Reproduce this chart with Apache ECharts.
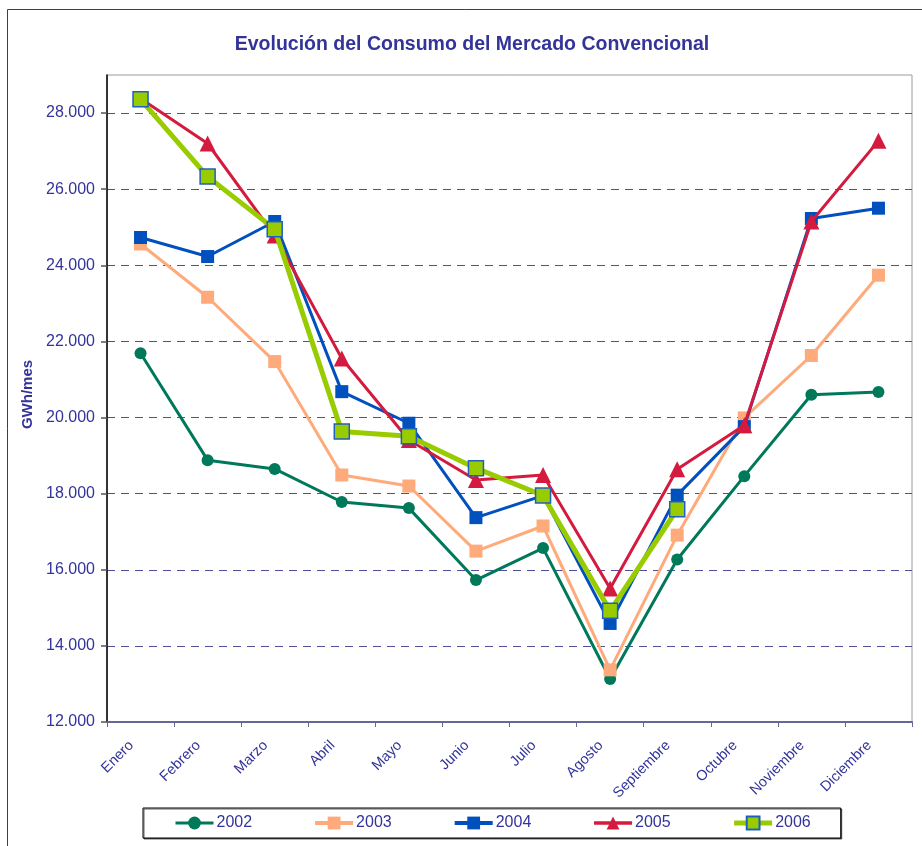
<!DOCTYPE html>
<html>
<head>
<meta charset="utf-8">
<script src="https://cdn.jsdelivr.net/npm/echarts@6/dist/echarts.min.js"></script>
<style>
html,body{margin:0;padding:0;background:#fff;}
#chart{width:922px;height:846px;}
</style>
</head>
<body>
<div id="chart"></div>
<script>
var categories = ['Enero','Febrero','Marzo','Abril','Mayo','Junio','Julio','Agosto','Septiembre','Octubre','Noviembre','Diciembre'];
var s2002 = [21690, 18880, 18650, 17780, 17620, 15730, 16570, 13130, 16270, 18460, 20600, 20670];
var s2003 = [24560, 23160, 21470, 18490, 18200, 16490, 17150, 13370, 16910, 19990, 21630, 23740];
var s2004 = [24730, 24230, 25150, 20680, 19850, 17370, 17950, 14590, 17960, 19760, 25230, 25500];
var s2005 = [28380, 27200, 24780, 21550, 19410, 18360, 18490, 15510, 18640, 19800, 25150, 27270];
var s2006 = [28360, 26330, 24950, 19630, 19510, 18670, 17950, 14920, 17590, null, null, null];
var seriesNames = ['2002','2003','2004','2005','2006'];
var yTicks = {min: 12000, max: 29000, interval: 2000};

var FONT = "'Liberation Sans', Arial, sans-serif";
var NAVY = '#333399';

var chart = echarts.init(document.getElementById('chart'), null, {renderer: 'canvas'});

function fmt(v) {
  return String(v).replace(/\B(?=(\d{3})+(?!\d))/g, '.');
}

var legendLineWidths = [3, 4, 4, 3.5, 5];

var option = {
  backgroundColor: '#fff',
  animation: false,
  graphic: [{
    type: 'rect',
    left: 5, top: 7,
    shape: {x: 0, y: 0, width: 1000, height: 1000},
    style: {fill: 'none', stroke: NAVY, lineWidth: 1},
    silent: true
  }],
  title: {
    text: 'Evolución del Consumo del Mercado Convencional',
    left: 472, top: 35, textAlign: 'center',
    padding: 0,
    textStyle: {fontFamily: FONT, fontSize: 19.5, fontWeight: 'bold', color: NAVY}
  },
  grid: {
    left: 107, right: 10, top: 75, bottom: 124,
    show: true, borderColor: '#9a9a9a', borderWidth: 1, backgroundColor: 'transparent'
  },
  legend: {
    data: seriesNames.map(function (n, i) {
      return {name: n, lineStyle: {width: legendLineWidths[i]}};
    }),
    left: 143, top: 808,
    padding: [7, 30, 7, 31],
    itemGap: 61,
    itemWidth: 38, itemHeight: 16,
    borderColor: '#000', borderWidth: 1,
    shadowColor: 'rgba(0,0,0,0.6)', shadowBlur: 0, shadowOffsetX: 1, shadowOffsetY: 1,
    backgroundColor: '#fff',
    textStyle: {fontFamily: FONT, fontSize: 16, color: NAVY, padding: [0, 0, 0, -2]}
  },
  xAxis: {
    type: 'category',
    data: categories,
    boundaryGap: true,
    axisLine: {lineStyle: {color: '#666699', width: 2}},
    axisTick: {show: true, inside: false, length: 5, alignWithLabel: false, interval: 0, lineStyle: {color: '#666699', width: 1}},
    axisLabel: {interval: 0, rotate: 45, margin: 12, padding: [0, 13, 0, 0], fontFamily: FONT, fontSize: 14.5, color: NAVY},
    splitLine: {show: false}
  },
  yAxis: {
    type: 'value',
    min: yTicks.min, max: yTicks.max, interval: yTicks.interval,
    name: 'GWh/mes',
    nameLocation: 'middle',
    nameGap: 72,
    nameTextStyle: {fontFamily: FONT, fontSize: 15, fontWeight: 'bold', color: NAVY, padding: [0, 0, 0, 8]},
    axisLine: {show: true, lineStyle: {color: '#000', width: 1.5}},
    axisTick: {show: true, length: 6, lineStyle: {color: '#555', width: 1.5}},
    axisLabel: {
      margin: 12, fontFamily: FONT, fontSize: 16, color: NAVY,
      showMaxLabel: false,
      formatter: function (v) { return v >= yTicks.max ? '' : fmt(v); }
    },
    splitLine: {show: true, showMaxLine: false, lineStyle: {color: '#4f4f9c', width: 1, type: [8, 6]}}
  },
  series: [
    {
      name: '2002', type: 'line', data: s2002,
      symbol: 'circle', symbolSize: 12,
      lineStyle: {color: '#00785A', width: 3},
      itemStyle: {color: '#00785A'},
      z: 2
    },
    {
      name: '2003', type: 'line', data: s2003,
      symbol: 'rect', symbolSize: 13,
      lineStyle: {color: '#FFAA7A', width: 3},
      itemStyle: {color: '#FFAA7A'},
      z: 3
    },
    {
      name: '2004', type: 'line', data: s2004,
      symbol: 'rect', symbolSize: 13,
      lineStyle: {color: '#0050BE', width: 3},
      itemStyle: {color: '#0050BE'},
      z: 4
    },
    {
      name: '2005', type: 'line', data: s2005,
      symbol: 'triangle', symbolSize: 16,
      lineStyle: {color: '#D41A3F', width: 3},
      itemStyle: {color: '#D41A3F'},
      z: 5
    },
    {
      name: '2006', type: 'line', data: s2006,
      symbol: 'rect', symbolSize: 15,
      connectNulls: false,
      lineStyle: {color: '#99CC00', width: 5},
      itemStyle: {color: '#99CC00', borderColor: '#1F5FC0', borderWidth: 1.5},
      z: 6
    }
  ]
};

chart.setOption(option);
</script>
</body>
</html>
